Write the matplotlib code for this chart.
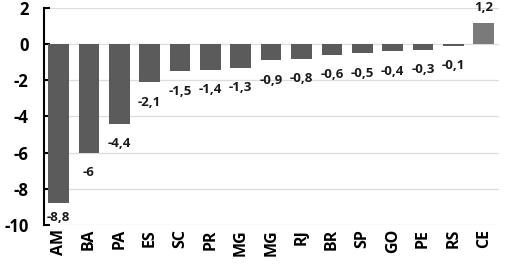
import matplotlib
matplotlib.use("Agg")
import matplotlib.pyplot as plt
import numpy as np

states = ["AM", "BA", "PA", "ES", "SC", "PR", "MG", "MG", "RJ", "BR",
          "SP", "GO", "PE", "RS", "CE"]
values = [-8.8, -6, -4.4, -2.1, -1.5, -1.4, -1.3, -0.9, -0.8, -0.6,
          -0.5, -0.4, -0.3, -0.1, 1.2]
yticks = [2, 0, -2, -4, -6, -8, -10]

plt.rcParams["font.family"] = ["Open Sans", "DejaVu Sans"]

fig = plt.figure(figsize=(5.06, 2.69), dpi=100)
ax = fig.add_axes([0.087, 0.164, 0.899, 0.806])

x = np.arange(len(states))
colors = ["#5b5b5b" if v < 0 else "#7a7a7a" for v in values]
ax.bar(x, values, width=0.68, color=colors, zorder=3)

for xi, v in zip(x, values):
    txt = f"{v:g}".replace(".", ",")
    if v < 0:
        y = max(v - 1.1, -9.6)
    else:
        y = v + 0.85
    ax.text(xi, y, txt, ha="center", va="center", fontsize=9.5,
            fontweight="bold", color="#1a1a1a", zorder=4)

ax.set_xlim(-0.48, len(states) - 0.5)
ax.set_ylim(-10, 2)
ax.set_yticks(yticks)
ax.set_yticklabels([str(t) for t in yticks], fontsize=12, fontweight="bold")
ax.set_xticks(x)
ax.set_xticklabels(states, rotation=90, fontsize=11.5, fontweight="bold")

ax.grid(axis="y", color="#dcdcdc", linewidth=0.9, zorder=0)
ax.tick_params(axis="y", direction="in", length=4, width=1.5, pad=11,
               colors="black")
ax.tick_params(axis="x", length=0, pad=3)
for s in ["top", "right", "bottom"]:
    ax.spines[s].set_visible(False)
ax.spines["left"].set_linewidth(1.5)

fig.savefig("out.png", dpi=100)
